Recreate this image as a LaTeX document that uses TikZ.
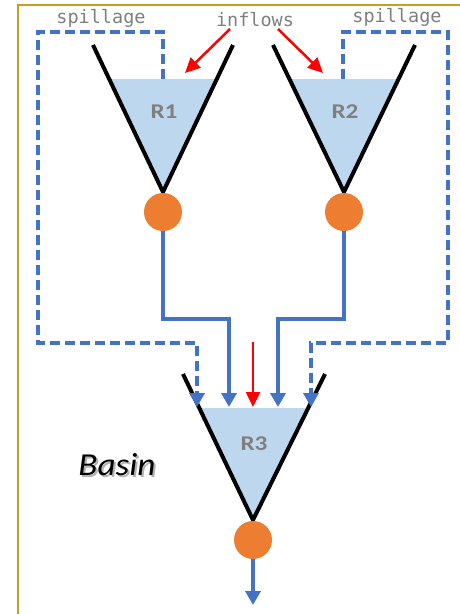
\documentclass[tikz,border=0pt]{standalone}
\usepackage{fontspec}
\setmainfont{Carlito}
\newfontfamily\codefont{DejaVu Sans Mono}
\newfontfamily\namefont[FakeStretch=1.2]{Carlito}
\newfontfamily\areafont[FakeStretch=1.1]{Carlito}
\usetikzlibrary{arrows.meta}
\definecolor{flowblue}{RGB}{68,114,196}
\definecolor{water}{RGB}{189,215,238}
\definecolor{pump}{RGB}{237,125,49}
\definecolor{labelgray}{RGB}{127,127,127}
\definecolor{framegold}{RGB}{197,160,30}
\begin{document}
\begin{tikzpicture}[x=1pt,y=-1pt,
  wall/.style={line width=4pt, black},
  pool/.style={fill=water},
  outlet/.style={circle, fill=pump, minimum size=38pt, inner sep=0pt},
  resname/.style={font=\namefont\fontsize{21}{21}\selectfont\bfseries, text=labelgray},
  tag/.style={font=\codefont\fontsize{18.5}{18.5}\selectfont, text=labelgray, inner sep=0pt},
  area/.style={font=\areafont\fontsize{32}{32}\selectfont\itshape},
  flow/.style={flowblue, line width=3.5pt, -{Triangle[length=14pt,width=15pt]}},
  spill/.style={flow, dash pattern=on 10pt off 5pt},
  inflow/.style={red, line width=2.5pt, -{Triangle[length=15pt,width=14pt]}},
]
\useasboundingbox (0,0) rectangle (459,614);

% basin frame
\draw[framegold, line width=2pt] (18,630) -- (18,5) -- (470,5);

% reservoir R1
\fill[pool] (109.5,79) -- (216.5,79) -- (163,192) -- cycle;
\draw[wall] (93,45) -- (163,192) -- (233,45);
\node[resname] (r1) at (164,112) {R1};
\node[outlet] (c1) at (163,212) {};
\coordinate (s1) at (163,79);

% reservoir R2
\fill[pool] (289.5,79) -- (398.5,79) -- (344,192) -- cycle;
\draw[wall] (273,45) -- (344,192) -- (415,45);
\node[resname] (r2) at (345,112) {R2};
\node[outlet] (c2) at (344,212) {};
\coordinate (s2) at (343,79);

% reservoir R3
\fill[pool] (199.3,408) -- (308.2,408) -- (253,520) -- cycle;
\draw[wall] (183,374) -- (253,520) -- (325,374);
\node[resname] (r3) at (254,444) {R3};
\node[outlet] (c3) at (253,540) {};

% labels
\node[tag] (spl) at (101,18) {spillage};
\node[tag] (spr) at (397,17) {spillage};
\node[tag] (inf) at (255,20) {inflows};
\node[area, text=black, opacity=0.3] at (119,467) {Basin};
\node[area] (basin) at (117,465) {Basin};

% arrival points at R3
\coordinate (t1) at (197,407);
\coordinate (t2) at (229,407);
\coordinate (t3) at (253,407);
\coordinate (t4) at (278,407);
\coordinate (t5) at (311,407);
\coordinate (out) at (253,605);

% releases
\draw[flow] (c1.south) |- (229,319) -- (t2);
\draw[flow] (c2.south) |- (278,319) -- (t4);
\draw[flow] (c3.south) -- (out);

% spillage
\draw[spill] (s1) |- (38,32) |- (197,343) -- (t1);
\draw[spill] (s2) |- (448,32) |- (311,343) -- (t5);

% inflows
\coordinate (i1) at (230,29);
\coordinate (i2) at (278,29);
\coordinate (i3) at (253,342);
\draw[inflow] (i1) -- (185,73);
\draw[inflow] (i2) -- (323,73);
\draw[inflow] (i3) -- (t3);
\end{tikzpicture}
\end{document}
